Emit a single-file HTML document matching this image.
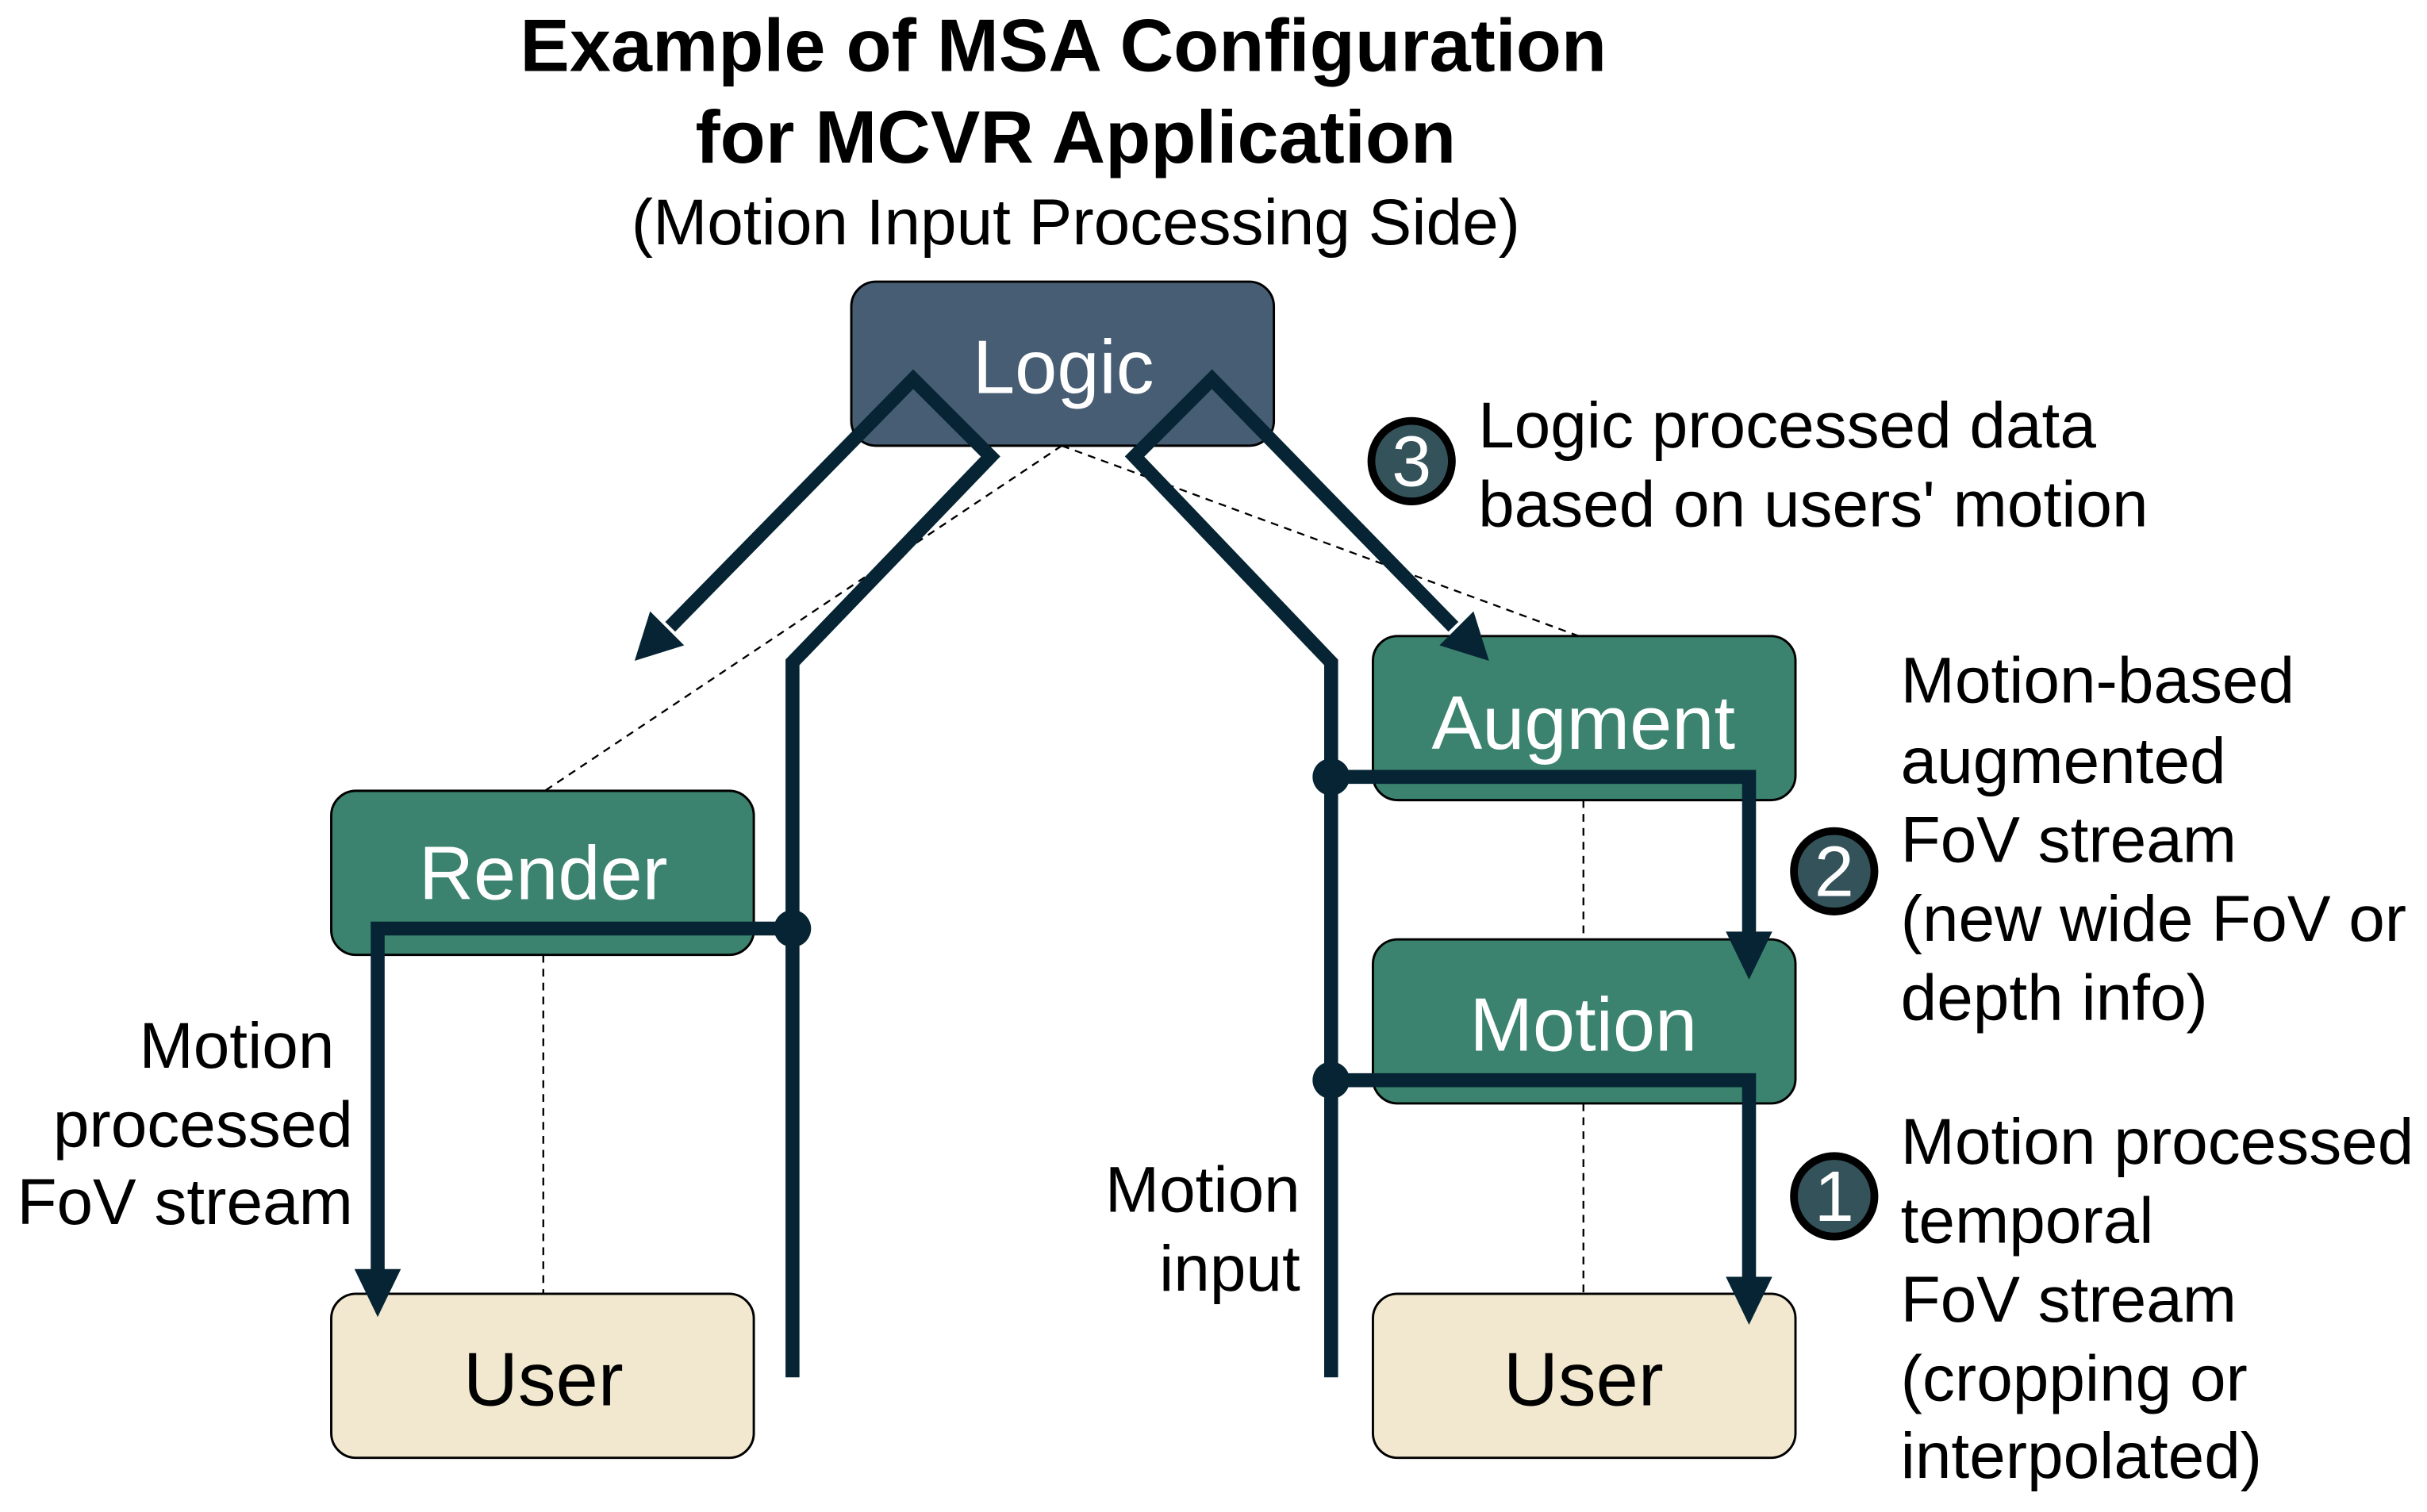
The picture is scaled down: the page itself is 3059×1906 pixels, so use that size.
<!DOCTYPE html>
<html><head><meta charset="utf-8"><style>html,body{margin:0;padding:0;background:#fff}svg{display:block}</style></head>
<body>
<svg width="3059" height="1906" viewBox="0 0 1568 977" xmlns="http://www.w3.org/2000/svg" font-family="Liberation Sans, Arial, sans-serif">
<text x="687" y="46" text-anchor="middle" font-size="48" font-weight="bold">Example of MSA Configuration</text>
<text x="695" y="105" text-anchor="middle" font-size="48" font-weight="bold">for MCVR Application</text>
<text x="695" y="158" text-anchor="middle" font-size="42">(Motion Input Processing Side)</text>

<g stroke="#000" stroke-width="1.5">
<rect x="550" y="182" width="273" height="106" rx="16" fill="#475d73"/>
<rect x="214" y="511" width="273" height="106" rx="16" fill="#3b836e"/>
<rect x="214" y="836" width="273" height="106" rx="16" fill="#f1e8cf"/>
<rect x="887" y="411" width="273" height="106" rx="16" fill="#3b836e"/>
<rect x="887" y="607" width="273" height="106" rx="16" fill="#3b836e"/>
<rect x="887" y="836" width="273" height="106" rx="16" fill="#f1e8cf"/>
</g>
<g stroke="#000" stroke-width="1.2" stroke-dasharray="5,4" fill="none">
<path d="M686,288 L352,511 M686,288 L1020,411 M351,617 L351,836 M1023,517 L1023,607 M1023,713 L1023,836"/>
</g>
<g font-size="49" text-anchor="middle">
<text x="687" y="254" fill="#fff">Logic</text>
<text x="351" y="581" fill="#fff">Render</text>
<text x="351" y="908" fill="#000">User</text>
<text x="1023" y="484" fill="#fff">Augment</text>
<text x="1023" y="679" fill="#fff">Motion</text>
<text x="1023" y="908" fill="#000">User</text>
</g>
<g stroke="#062433" stroke-width="9" fill="none" stroke-linejoin="miter">
<path d="M512,890 L512,428 L640,295 L590,245 L433,405"/>
<path d="M860,890 L860,428 L733,295 L783,245 L939,405"/>
<path d="M512,600 L244,600 L244,822"/>
<path d="M860,502 L1130,502 L1130,604"/>
<path d="M860,698 L1130,698 L1130,827"/>
</g>
<g fill="#062433">
<polygon points="410,427 442,417 420,395"/>
<polygon points="962,427 952,395 930,417"/>
<polygon points="244,851 229,820 259,820"/>
<polygon points="1130,633 1115,602 1145,602"/>
<polygon points="1130,856 1115,825 1145,825"/>
<circle cx="512" cy="600" r="12"/><circle cx="860" cy="502" r="12"/><circle cx="860" cy="698" r="12"/>
</g>
<g stroke="#000" stroke-width="5" fill="#34525a">
<circle cx="912" cy="298" r="26"/><circle cx="1185" cy="563" r="26"/><circle cx="1185" cy="773" r="26"/>
</g>
<g fill="#fff" font-size="46" text-anchor="middle">
<text x="912" y="314">3</text><text x="1185" y="579">2</text><text x="1185" y="789">1</text>
</g>
<g font-size="42" fill="#000">
<text x="955" y="289">Logic processed data</text>
<text x="955" y="340">based on users' motion</text>
<text x="1228" y="454">Motion-based</text>
<text x="1228" y="506">augmented</text>
<text x="1228" y="557">FoV stream</text>
<text x="1228" y="608">(new wide FoV or</text>
<text x="1228" y="659">depth info)</text>
<text x="1228" y="752">Motion processed</text>
<text x="1228" y="803">temporal</text>
<text x="1228" y="854">FoV stream</text>
<text x="1228" y="905">(cropping or</text>
<text x="1228" y="955">interpolated)</text>
</g>
<g font-size="42" fill="#000" text-anchor="end">
<text x="216" y="690">Motion</text>
<text x="228" y="741">processed</text>
<text x="228" y="791">FoV stream</text>
<text x="840" y="783">Motion</text>
<text x="840" y="834">input</text>
</g>
</svg>
</body></html>
